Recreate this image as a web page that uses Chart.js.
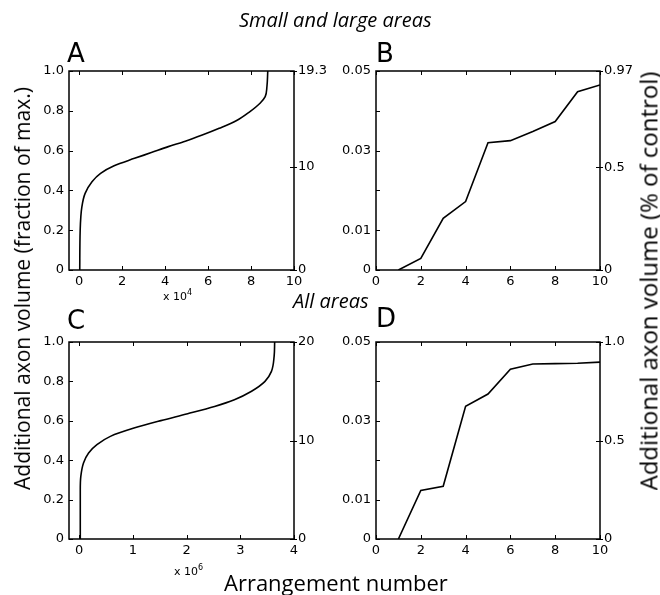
<!DOCTYPE html>
<html>
<head>
<meta charset="utf-8">
<script src="https://cdn.jsdelivr.net/npm/chart.js@4"></script>
<style>
  html, body { margin: 0; padding: 0; background: #fff; }
  #page { position: relative; width: 660px; height: 595px; overflow: hidden; }
  #page canvas { position: absolute; left: 0; top: 0; }
  .txt { position: absolute; white-space: nowrap; color: #000; line-height: 1; }
  .head { font-family: 'Open Sans', sans-serif; font-style: italic; font-size: 20px; }
  .letter { font-family: 'DejaVu Sans', sans-serif; font-size: 26px; }
  .title { font-family: 'Open Sans', sans-serif; font-size: 21px; }
  .exp { font-family: 'DejaVu Sans', sans-serif; font-size: 11px; }
  .exp sup { font-size: 8px; vertical-align: 5px; }
</style>
</head>
<body>
<div id="page">
  <canvas id="chartA" width="660" height="595"></canvas>
  <canvas id="chartB" width="660" height="595"></canvas>
  <canvas id="chartC" width="660" height="595"></canvas>
  <canvas id="chartD" width="660" height="595"></canvas>

  <div class="txt head" style="left:239px; top:10px;">Small and large areas</div>
  <div class="txt head" style="left:293px; top:291px;">All areas</div>

  <div class="txt letter" style="left:67px; top:40px;">A</div>
  <div class="txt letter" style="left:376px; top:40px;">B</div>
  <div class="txt letter" style="left:67px; top:307px;">C</div>
  <div class="txt letter" style="left:376px; top:305px;">D</div>

  <div class="txt exp" style="left:163px; top:289px;">x 10<sup>4</sup></div>
  <div class="txt exp" style="left:174px; top:564px;">x 10<sup>6</sup></div>

  <div class="txt title" id="leftTitle">Additional axon volume (fraction of max.)</div>
  <div class="txt title" id="rightTitle" style="font-size:24px;">Additional axon volume (% of control)</div>
  <div class="txt title" style="left:224px; top:571px; font-size:22px;">Arrangement number</div>
</div>

<script>
// ---- data ----

// A: small and large areas, all arrangements (x 10^4), sorted
const fracA = [0, 0.2, 0.318, 0.385, 0.444, 0.486, 0.524, 0.561, 0.59, 0.62, 0.647, 0.678, 0.712, 0.75, 0.796, 0.838, 0.871, 0.921, 1.0];
const arrA  = [0.03, 0.05, 0.13, 0.28, 0.6, 1.0, 1.63, 2.58, 3.36, 4.15, 4.94, 5.73, 6.52, 7.31, 7.95, 8.42, 8.66, 8.74, 8.78];

// C: all areas, all arrangements (x 10^6), sorted
const fracC = [0, 0.25, 0.318, 0.386, 0.437, 0.479, 0.521, 0.563, 0.601, 0.636, 0.673, 0.707, 0.75, 0.8, 0.851, 0.927, 1.0];
const arrC  = [0.02, 0.02, 0.03, 0.08, 0.175, 0.33, 0.58, 1.02, 1.52, 2.02, 2.52, 2.89, 3.21, 3.46, 3.58, 3.63, 3.64];

// B and D: ten best arrangements
const rankBD = [1, 2, 3, 4, 5, 6, 7, 8, 9, 10];
const volB = [0, 0.0029, 0.013, 0.0172, 0.032, 0.0325, 0.0348, 0.0373, 0.0448, 0.0465];
const volD = [0, 0.0123, 0.0134, 0.0337, 0.0368, 0.0431, 0.0444, 0.0445, 0.0446, 0.0449];

// tick values / labels
const xTicksA = [0, 2, 4, 6, 8, 10];
const xTicksC = [0, 1, 2, 3, 4];
const xTicksBD = [0, 2, 4, 6, 8, 10];
const yTicksAC = [0, 0.2, 0.4, 0.6, 0.8, 1.0];
const yLabelsAC = ['0', '0.2', '0.4', '0.6', '0.8', '1.0'];
const yTicksBD = [0, 0.01, 0.02, 0.03, 0.04, 0.05];
const yLabelsBD = ['0', '0.01', '', '0.03', '', '0.05'];
const rightTicksA = [0, 10, 19.3];
const rightLabelsA = ['0', '10', '19.3'];
const rightTicksB = [0, 0.5, 0.97];
const rightLabelsB = ['0', '0.5', '0.97'];
const rightTicksC = [0, 10, 20];
const rightLabelsC = ['0', '10', '20'];
const rightTicksD = [0, 0.5, 1.0];
const rightLabelsD = ['0', '0.5', '1.0'];

const W = 660, H = 595;
const TICK = 4;
const tickFont = { family: 'DejaVu Sans', size: 13 };

// box round the plot + matlab-like inward ticks
const framePlugin = {
  id: 'frame',
  afterDatasetsDraw(chart) {
    const { ctx, chartArea: a, scales } = chart;
    ctx.save();
    ctx.strokeStyle = '#000';
    ctx.lineWidth = 1.5;
    ctx.strokeRect(a.left, a.top, a.right - a.left, a.bottom - a.top);
    ctx.lineWidth = 1;
    ctx.beginPath();
    scales.x.ticks.forEach(t => {
      const px = Math.round(scales.x.getPixelForValue(t.value)) + 0.5;
      ctx.moveTo(px, a.bottom); ctx.lineTo(px, a.bottom - TICK);
      ctx.moveTo(px, a.top); ctx.lineTo(px, a.top + TICK);
    });
    scales.y.ticks.forEach(t => {
      const py = Math.round(scales.y.getPixelForValue(t.value)) + 0.5;
      ctx.moveTo(a.left, py); ctx.lineTo(a.left + TICK, py);
    });
    scales.y2.ticks.forEach(t => {
      const py = Math.round(scales.y2.getPixelForValue(t.value)) + 0.5;
      ctx.moveTo(a.right - TICK, py); ctx.lineTo(a.right + 3, py);
    });
    ctx.stroke();
    ctx.restore();
  }
};

function fixedTicks(vals) {
  return scale => { scale.ticks = vals.map(v => ({ value: v })); };
}

function makePanel(id, p) {
  const YW = 40, Y2W = 40, XH = 30;
  return new Chart(document.getElementById(id), {
    type: 'line',
    data: {
      datasets: [{
        data: p.xs.map((x, i) => ({ x: x, y: p.ys[i] })),
        borderColor: '#000',
        borderWidth: 1.6,
        pointRadius: 0,
        fill: false,
        cubicInterpolationMode: p.smooth ? 'monotone' : 'default',
        tension: 0,
      }]
    },
    options: {
      indexAxis: p.smooth ? 'y' : 'x',
      responsive: false,
      animation: false,
      devicePixelRatio: 1,
      layout: {
        padding: {
          left: p.area.left - YW,
          right: W - p.area.right - Y2W,
          top: p.area.top,
          bottom: H - p.area.bottom - XH,
        }
      },
      plugins: { legend: { display: false }, tooltip: { enabled: false } },
      scales: {
        x: {
          type: 'linear', position: 'bottom',
          min: p.xMin, max: p.xMax,
          afterBuildTicks: fixedTicks(p.xTicks),
          afterFit: s => { s.height = XH; },
          grid: { display: false, drawTicks: false },
          border: { display: false },
          ticks: { color: '#000', font: tickFont, padding: 4, autoSkip: false, maxRotation: 0,
                   callback: v => String(v) },
        },
        y: {
          type: 'linear', position: 'left',
          min: 0, max: p.yTicks[p.yTicks.length - 1],
          afterBuildTicks: fixedTicks(p.yTicks),
          afterFit: s => { s.width = YW; },
          grid: { display: false, drawTicks: false },
          border: { display: false },
          ticks: { color: '#000', font: tickFont, padding: 5, autoSkip: false,
                   callback: (v, i) => p.yLabels[i] },
        },
        y2: {
          type: 'linear', position: 'right',
          min: 0, max: p.rTicks[p.rTicks.length - 1],
          afterBuildTicks: fixedTicks(p.rTicks),
          afterFit: s => { s.width = Y2W; },
          grid: { display: false, drawTicks: false },
          border: { display: false },
          ticks: { color: '#000', font: tickFont, padding: 4, autoSkip: false,
                   callback: (v, i) => p.rLabels[i] },
        },
      }
    },
    plugins: [framePlugin]
  });
}

makePanel('chartA', {
  area: { left: 69, right: 294, top: 71, bottom: 270 },
  xs: arrA, ys: fracA, smooth: true,
  xMin: -0.47, xMax: 10, xTicks: xTicksA,
  yTicks: yTicksAC, yLabels: yLabelsAC,
  rTicks: rightTicksA, rLabels: rightLabelsA,
});

makePanel('chartB', {
  area: { left: 376, right: 600, top: 71, bottom: 270 },
  xs: rankBD, ys: volB, smooth: false,
  xMin: 0, xMax: 10, xTicks: xTicksBD,
  yTicks: yTicksBD, yLabels: yLabelsBD,
  rTicks: rightTicksB, rLabels: rightLabelsB,
});

makePanel('chartC', {
  area: { left: 69, right: 294, top: 342, bottom: 539 },
  xs: arrC, ys: fracC, smooth: true,
  xMin: -0.19, xMax: 4, xTicks: xTicksC,
  yTicks: yTicksAC, yLabels: yLabelsAC,
  rTicks: rightTicksC, rLabels: rightLabelsC,
});

makePanel('chartD', {
  area: { left: 376, right: 600, top: 342, bottom: 539 },
  xs: rankBD, ys: volD, smooth: false,
  xMin: 0, xMax: 10, xTicks: xTicksBD,
  yTicks: yTicksBD, yLabels: yLabelsBD,
  rTicks: rightTicksD, rLabels: rightLabelsD,
});

// rotated side titles, centred on their spots
function placeRotated(el, cx, cy) {
  const w = el.offsetWidth, h = el.offsetHeight;
  el.style.left = (cx - w / 2) + 'px';
  el.style.top = (cy - h / 2) + 'px';
  el.style.transform = 'rotate(-90deg)';
}
placeRotated(document.getElementById('leftTitle'), 22, 288);
placeRotated(document.getElementById('rightTitle'), 648, 281);
</script>
</body>
</html>
